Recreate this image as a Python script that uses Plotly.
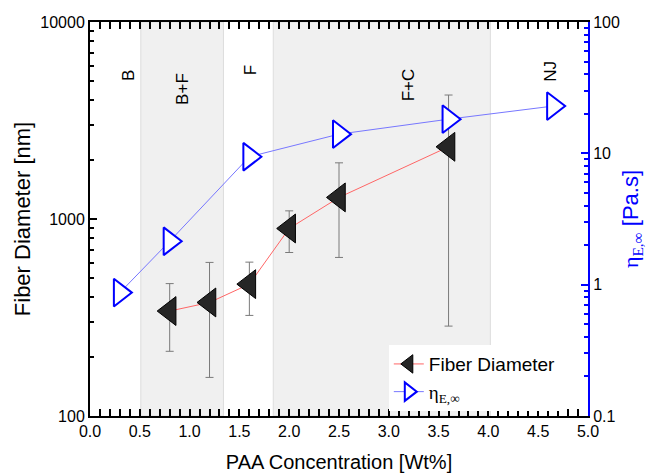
import plotly.graph_objects as go

# ---- data ----
conc_fiber = [0.8, 1.2, 1.6, 2.0, 2.5, 3.6]
fiber_diam = [341, 377, 467, 895, 1287, 2325]
fiber_err_plus = [129, 225, 137, 205, 641, 1934]
fiber_err_minus = [128, 220, 143, 219, 649, 2039]

conc_eta = [0.3, 0.8, 1.6, 2.5, 3.6, 4.65]
eta = [0.87, 2.14, 9.42, 14.0, 18.2, 22.9]

region_names = ["B", "B+F", "F", "F+C", "NJ"]
region_label_x = [0.38, 0.93, 1.62, 3.2, 4.62]
region_label_y = [0.884, 0.875, 0.896, 0.888, 0.906]
shade_bounds = [(0.51, 1.34), (1.84, 4.02)]

x_tickvals = [0.0, 0.5, 1.0, 1.5, 2.0, 2.5, 3.0, 3.5, 4.0, 4.5, 5.0]
x_ticktext = ["0.0", "0.5", "1.0", "1.5", "2.0", "2.5", "3.0", "3.5", "4.0", "4.5", "5.0"]
y_tickvals = [100, 1000, 10000]
y_ticktext = ["100", "1000", "10000"]
y2_tickvals = [0.1, 1, 10, 100]
y2_ticktext = ["0.1", "1", "10", "100"]

FONT = "Liberation Sans, Arial, sans-serif"
SERIF = "Liberation Serif"
eta_label = f"<span style='font-family:{SERIF}'>η<sub>E,∞</sub></span>"

fig = go.Figure()

fig.add_trace(go.Scatter(
    x=conc_fiber, y=fiber_diam, name="Fiber Diameter",
    mode="lines+markers",
    line=dict(color="#ff6666", width=1),
    marker=dict(symbol="triangle-left", size=25, color="#262626",
                line=dict(color="#000000", width=1)),
    error_y=dict(type="data", symmetric=False, array=fiber_err_plus,
                 arrayminus=fiber_err_minus, color="#7a7a7a",
                 thickness=1, width=4),
))

fig.add_trace(go.Scatter(
    x=conc_eta, y=eta, name=eta_label, yaxis="y2",
    mode="lines+markers",
    line=dict(color="#7777ff", width=1),
    marker=dict(symbol="triangle-right", size=24, color="#ffffff",
                line=dict(color="#0000ff", width=2)),
))

for x0, x1 in shade_bounds:
    fig.add_shape(type="rect", xref="x", yref="paper", x0=x0, x1=x1, y0=0, y1=1,
                  fillcolor="#f0f0f0", line=dict(color="#dddddd", width=1),
                  layer="below")

for name, lx, ly in zip(region_names, region_label_x, region_label_y):
    fig.add_annotation(x=lx, y=ly, xref="x", yref="paper", text=name,
                       textangle=-90, showarrow=False,
                       font=dict(family=FONT, size=17, color="black"))

fig.update_layout(
    width=648, height=473,
    margin=dict(l=90, r=60, t=22, b=57),
    paper_bgcolor="white", plot_bgcolor="white",
    font=dict(family=FONT, size=16, color="black"),
    showlegend=True,
    legend=dict(x=0.6, y=0.18, xanchor="left", yanchor="top",
                bgcolor="white", borderwidth=0,
                font=dict(family=FONT, size=19, color="black"),
                tracegroupgap=0),
    xaxis=dict(
        range=[0, 5], tickvals=x_tickvals, ticktext=x_ticktext,
        showline=True, linecolor="black", linewidth=2, mirror="allticks",
        ticks="inside", ticklen=7, tickwidth=2, tickcolor="black",
        minor=dict(dtick=0.1, ticks="inside", ticklen=4, tickwidth=1.5,
                   tickcolor="black"),
        showgrid=False, zeroline=False, automargin=False,
        title=dict(text="PAA Concentration [Wt%]", font=dict(size=20), standoff=20),
        tickfont=dict(size=16),
    ),
    yaxis=dict(
        type="log", range=[2, 4], tickvals=y_tickvals, ticktext=y_ticktext,
        showline=True, linecolor="black", linewidth=2,
        ticks="inside", ticklen=7, tickwidth=2, tickcolor="black",
        minor=dict(dtick="D1", ticks="inside", ticklen=4, tickwidth=1.5,
                   tickcolor="black", showgrid=False),
        showgrid=False, zeroline=False, automargin=False,
        title=dict(text="Fiber Diameter [nm]", font=dict(size=22), standoff=4),
        tickfont=dict(size=16),
    ),
    yaxis2=dict(
        type="log", range=[-1, 2], overlaying="y", side="right",
        tickvals=y2_tickvals, ticktext=y2_ticktext,
        showline=True, linecolor="#0000ff", linewidth=2,
        ticks="inside", ticklen=7, tickwidth=2, tickcolor="#0000ff",
        minor=dict(dtick="D1", ticks="inside", ticklen=4, tickwidth=1.5,
                   tickcolor="#0000ff", showgrid=False),
        showgrid=False, zeroline=False, automargin=False,
        title=dict(text=eta_label + " [Pa.s]", font=dict(size=22, color="#0000ff"),
                   standoff=4),
        tickfont=dict(size=16, color="black"),
    ),
)

fig.write_html("out.html")
